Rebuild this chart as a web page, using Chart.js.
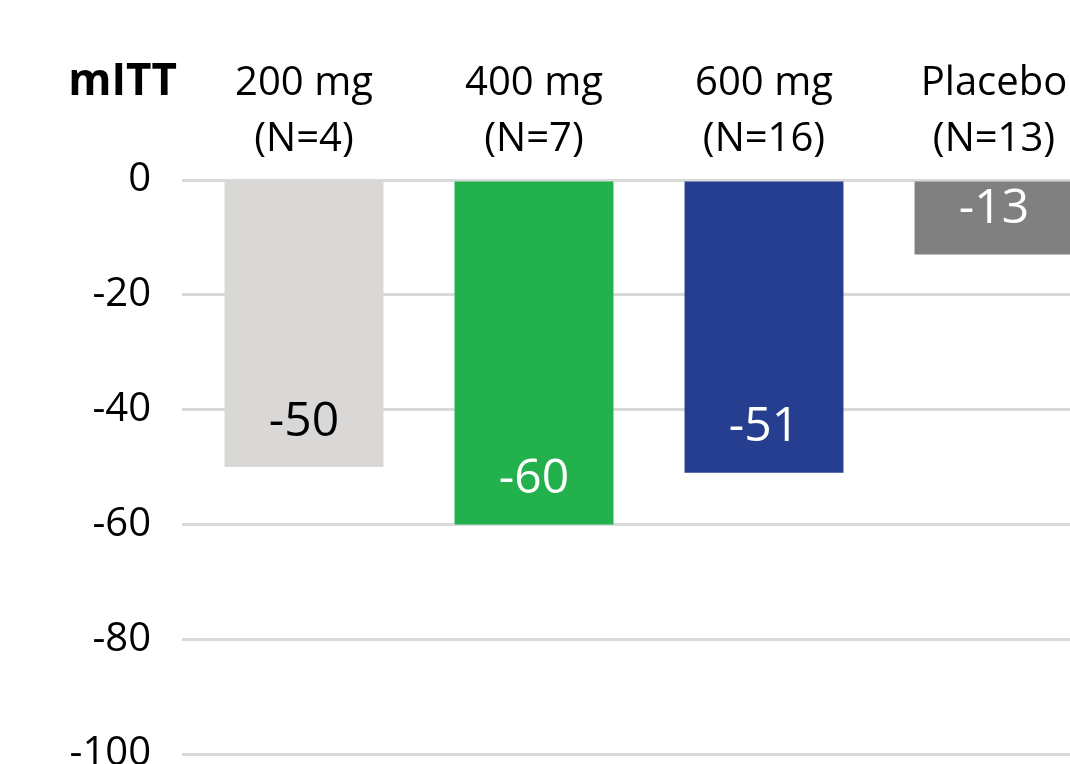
<!DOCTYPE html>
<html>
<head>
<meta charset="utf-8">
<script src="https://cdn.jsdelivr.net/npm/chart.js@4.4.1/dist/chart.umd.min.js"></script>
<style>
  html, body { margin: 0; padding: 0; background: #ffffff; overflow: hidden; }
  #chart { position: absolute; left: 0; top: 0; }
</style>
</head>
<body>
<canvas id="chart" width="1125" height="809"></canvas>
<script>
// Treatment arms (two-line labels) and their values
const categories = [["200 mg", "(N=4)"], ["400 mg", "(N=7)"], ["600 mg", "(N=16)"], ["Placebo", "(N=13)"]];
const values = [-50, -60, -51, -13];
const barColors = ["#d9d8d6", "#22b14c", "#253e8f", "#7f807f"];
const labelColors = ["#000000", "#ffffff", "#ffffff", "#ffffff"];
const yTicks = [0, -20, -40, -60, -80, -100];
const populationLabel = "mITT";

const FONT = "'Open Sans', 'DejaVu Sans', sans-serif";

// Value labels drawn inside each bar, near its lower end
const valueLabels = {
  id: "valueLabels",
  afterDatasetsDraw(chart) {
    const ctx = chart.ctx;
    const meta = chart.getDatasetMeta(0);
    ctx.save();
    ctx.font = "48px " + FONT;
    ctx.textAlign = "center";
    ctx.textBaseline = "middle";
    meta.data.forEach((bar, i) => {
      ctx.fillStyle = labelColors[i];
      ctx.fillText(String(values[i]), bar.x, bar.y - 45);
    });
    ctx.restore();
  }
};

// Bold population label to the left of the category headers
const populationTag = {
  id: "populationTag",
  afterDraw(chart) {
    const ctx = chart.ctx;
    ctx.save();
    ctx.font = "bold 44px " + FONT;
    ctx.fillStyle = "#000000";
    ctx.textAlign = "right";
    ctx.textBaseline = "middle";
    ctx.fillText(populationLabel, chart.chartArea.left - 12, chart.chartArea.top - 98);
    ctx.restore();
  }
};

new Chart(document.getElementById("chart"), {
  type: "bar",
  data: {
    labels: categories,
    datasets: [{
      data: values,
      backgroundColor: barColors,
      borderWidth: 0,
      barPercentage: 0.691,
      categoryPercentage: 1.0
    }]
  },
  options: {
    responsive: false,
    animation: false,
    events: [],
    layout: { padding: { top: 41, left: 66, right: 16, bottom: 0 } },
    plugins: {
      legend: { display: false },
      tooltip: { enabled: false }
    },
    scales: {
      x: {
        position: "top",
        afterFit(axis) { axis.height = 139; },
        grid: { display: false, drawTicks: false },
        border: { display: false },
        ticks: {
          color: "#000000",
          font: { family: FONT, size: 40, lineHeight: 1.4 },
          padding: 12,
          maxRotation: 0,
          autoSkip: false
        }
      },
      y: {
        min: -100,
        max: 0,
        afterBuildTicks(axis) { axis.ticks = yTicks.map(v => ({ value: v })); },
        afterFit(axis) { axis.width = 123; },
        grid: { color: "#d9d9d9", lineWidth: 3, drawTicks: true, tickLength: 7, tickColor: "#d9d9d9", tickWidth: 3 },
        border: { display: false },
        ticks: {
          color: "#000000",
          font: { family: FONT, size: 40 },
          padding: 31
        }
      }
    }
  },
  plugins: [valueLabels, populationTag]
});
</script>
</body>
</html>
